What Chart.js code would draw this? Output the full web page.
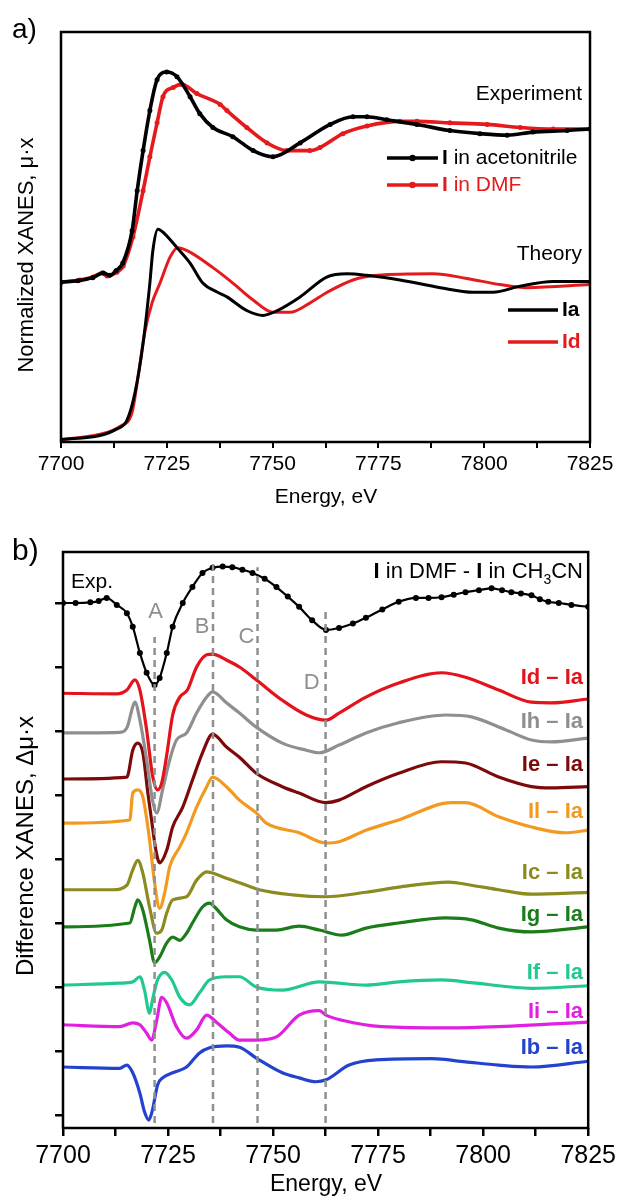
<!DOCTYPE html>
<html>
<head>
<meta charset="utf-8">
<script src="https://cdn.jsdelivr.net/npm/chart.js@4.4.1/dist/chart.umd.min.js"></script>
<style>
  body { margin: 0; background: #fff; width: 621px; height: 1200px; overflow: hidden; position: relative; }
  canvas { position: absolute; left: 0; }
  #chart-a { top: 0; }
  #chart-b { top: 520px; }
</style>
</head>
<body>
<canvas id="chart-a" width="621" height="520"></canvas>
<canvas id="chart-b" width="621" height="680"></canvas>
<script>
// ============================================================
// DATA
// ============================================================

// energy axis
const xMin = 7700, xMax = 7825, xStep = 12.5, xLabelStep = 25;

// --- panel a) normalized XANES ---
const expAcnE = [7700, 7704, 7707.5, 7710, 7711.5, 7713, 7714.6, 7716.8, 7718, 7719.4, 7721, 7722.7, 7725, 7727.4, 7730.5, 7732.8, 7735.9, 7740.6, 7745.4, 7750.1, 7756.5, 7763.6, 7769, 7772.3, 7777, 7784.1, 7791.9, 7799, 7805.4, 7811.5, 7819.6, 7825];
const expAcnV = [1.006, 1.015, 1.035, 1.065, 1.05, 1.08, 1.13, 1.34, 1.60, 1.86, 2.12, 2.32, 2.37, 2.34, 2.21, 2.10, 2.01, 1.95, 1.86, 1.82, 1.91, 2.03, 2.08, 2.08, 2.06, 2.03, 1.99, 1.97, 1.96, 1.98, 1.99, 2.0];

const expDmfE = [7700, 7704.5, 7707.6, 7709.7, 7710.9, 7713.2, 7714.7, 7717, 7719.4, 7721, 7722.7, 7724.1, 7726.5, 7728.6, 7732.1, 7737.6, 7739.2, 7743.9, 7748.7, 7753.4, 7758.8, 7761.2, 7766.6, 7772.3, 7780.1, 7784.1, 7791.9, 7800.7, 7808.5, 7816.3, 7825];
const expDmfV = [1.006, 1.02, 1.04, 1.065, 1.045, 1.07, 1.11, 1.30, 1.60, 1.82, 2.04, 2.21, 2.27, 2.29, 2.23, 2.16, 2.12, 2.01, 1.91, 1.86, 1.86, 1.88, 1.97, 2.02, 2.05, 2.05, 2.04, 2.03, 2.01, 2.0, 2.0];

const thIaE = [7700, 7709.2, 7713, 7715.6, 7717.5, 7719.4, 7721, 7721.7, 7722.9, 7724.5, 7727.4, 7730.5, 7733.5, 7737, 7739.2, 7744, 7747.7, 7751, 7756.5, 7762.9, 7767.6, 7772.3, 7780.1, 7789.6, 7797.4, 7802.1, 7808.5, 7816.3, 7825];
const thIaV = [-0.015, 0.01, 0.05, 0.11, 0.29, 0.61, 1.0, 1.21, 1.35, 1.32, 1.23, 1.13, 1.0, 0.94, 0.91, 0.82, 0.79, 0.82, 0.91, 1.04, 1.06, 1.05, 1.02, 0.97, 0.94, 0.94, 0.98, 1.01, 1.01];

const thIdE = [7700, 7710.9, 7714, 7716.8, 7718.2, 7719.8, 7721.5, 7723.4, 7725.8, 7727.6, 7729.8, 7735.9, 7740.6, 7745.4, 7750.1, 7754.1, 7758.8, 7762.9, 7769, 7774.7, 7787.9, 7795.9, 7803.7, 7810.1, 7825];
const thIdV = [-0.02, 0.03, 0.07, 0.16, 0.39, 0.68, 0.87, 1.0, 1.17, 1.23, 1.21, 1.10, 1.0, 0.89, 0.81, 0.81, 0.87, 0.94, 1.02, 1.05, 1.06, 1.03, 0.99, 0.97, 0.99];

// --- panel b) difference spectra (offset) ---
const diffExpE = [7700, 7703, 7706.5, 7708.5, 7710.4, 7712.8, 7715.2, 7716.6, 7718.3, 7719.9, 7721.8, 7723, 7724.7, 7726.1, 7728.5, 7730.8, 7733.2, 7735.6, 7738, 7740.3, 7742.7, 7745.1, 7748, 7750.8, 7753.5, 7756.2, 7759.3, 7762.6, 7765.7, 7769, 7772.1, 7776, 7779.9, 7784, 7787, 7790.1, 7793, 7795.8, 7799, 7802, 7804.5, 7806.7, 7809, 7811.5, 7813.5, 7815.5, 7818, 7821, 7825];
const diffExpV = [8.0, 8.0, 8.01, 8.03, 8.08, 7.97, 7.84, 7.63, 7.22, 6.91, 6.72, 6.83, 7.22, 7.63, 8.0, 8.25, 8.47, 8.55, 8.57, 8.56, 8.52, 8.47, 8.38, 8.25, 8.1, 7.94, 7.73, 7.58, 7.61, 7.68, 7.77, 7.90, 8.02, 8.08, 8.08, 8.09, 8.13, 8.17, 8.2, 8.23, 8.2, 8.17, 8.15, 8.12, 8.06, 8.02, 8.0, 7.97, 7.94];

const diffIdE = [7700, 7712.8, 7715.2, 7717.1, 7718.3, 7719.9, 7721.3, 7722.5, 7723.5, 7724.7, 7726.1, 7727.8, 7729.6, 7731.8, 7734.2, 7735.6, 7738.9, 7742, 7746, 7752.2, 7757.9, 7762.6, 7765.7, 7772.1, 7779.9, 7790.1, 7795.8, 7803.7, 7811.5, 7816.2, 7825];
const diffIdV = [6.59, 6.58, 6.64, 6.80, 6.64, 6.02, 5.31, 5.08, 5.19, 5.63, 6.25, 6.53, 6.64, 7.0, 7.19, 7.20, 7.11, 7.0, 6.80, 6.48, 6.25, 6.17, 6.28, 6.53, 6.75, 6.91, 6.84, 6.64, 6.45, 6.44, 6.50];

const diffIhE = [7700, 7713.5, 7715.2, 7716.6, 7717.1, 7718.3, 7719.9, 7721.3, 7722.3, 7723.7, 7725.4, 7727, 7729.4, 7731.8, 7734.2, 7735.6, 7738.9, 7742, 7746, 7752.2, 7757.9, 7761, 7765.7, 7772.1, 7779.9, 7791.1, 7797.2, 7805.3, 7811.5, 7816.2, 7825];
const diffIhV = [5.97, 5.98, 6.05, 6.38, 6.45, 6.17, 5.55, 4.92, 4.72, 5.08, 5.55, 5.86, 5.97, 6.28, 6.53, 6.61, 6.44, 6.28, 6.06, 5.81, 5.70, 5.66, 5.78, 5.97, 6.13, 6.25, 6.22, 6.02, 5.86, 5.83, 5.89];

const diffIeE = [7700, 7715.2, 7716.6, 7717.8, 7719, 7720.2, 7721.3, 7722.1, 7723, 7724.7, 7726.1, 7728.5, 7730.8, 7733.2, 7735.6, 7738.9, 7742, 7746, 7752.2, 7756.2, 7762.6, 7765.7, 7772.1, 7779.9, 7790.1, 7795.8, 7803.7, 7811.5, 7816.2, 7825];
const diffIeV = [5.25, 5.28, 5.70, 5.81, 5.66, 5.03, 4.50, 4.14, 3.94, 4.14, 4.50, 4.81, 5.23, 5.66, 5.95, 5.75, 5.59, 5.34, 5.13, 5.03, 4.88, 4.92, 5.13, 5.34, 5.52, 5.50, 5.28, 5.13, 5.11, 5.13];

const diffIlE = [7700, 7715.9, 7716.6, 7717.8, 7719, 7720.2, 7720.6, 7721.8, 7723, 7724.2, 7725.4, 7727.8, 7729.4, 7731.8, 7734.2, 7735.6, 7738.9, 7742, 7746, 7748.4, 7756.2, 7762.6, 7765.7, 7772.1, 7779.9, 7792.5, 7795.8, 7803.7, 7811.5, 7819.5, 7825];
const diffIlV = [4.56, 4.61, 5.03, 5.08, 4.97, 4.50, 4.30, 3.63, 3.23, 3.47, 3.88, 4.19, 4.41, 4.81, 5.13, 5.28, 5.13, 4.92, 4.72, 4.56, 4.41, 4.25, 4.27, 4.45, 4.61, 4.88, 4.88, 4.66, 4.50, 4.41, 4.45];

const diffIcE = [7700, 7711.9, 7715.2, 7716.6, 7717.8, 7719, 7720.6, 7722.3, 7723.5, 7724.7, 7726.1, 7729.4, 7731.8, 7734.2, 7735.6, 7738.9, 7742, 7746.7, 7754.6, 7762.6, 7772.1, 7779.9, 7791.8, 7797.2, 7803.7, 7811.5, 7825];
const diffIcV = [3.52, 3.52, 3.59, 3.83, 3.98, 3.78, 3.25, 2.84, 2.89, 3.16, 3.36, 3.41, 3.67, 3.80, 3.78, 3.70, 3.63, 3.52, 3.44, 3.41, 3.48, 3.56, 3.64, 3.59, 3.52, 3.45, 3.48];

const diffIgE = [7700, 7715.9, 7717.1, 7717.8, 7719, 7720.6, 7721.8, 7723, 7724.7, 7726.1, 7727.8, 7729.4, 7730.8, 7733.2, 7734.9, 7736.1, 7738.9, 7742, 7746, 7750.8, 7756.2, 7761, 7766.4, 7772.1, 7779.9, 7791.1, 7797.2, 7803.7, 7811.5, 7825];
const diffIgV = [2.94, 3.0, 3.25, 3.36, 3.20, 2.73, 2.38, 2.47, 2.69, 2.78, 2.73, 2.84, 3.0, 3.25, 3.31, 3.25, 3.05, 2.94, 2.89, 2.89, 2.95, 2.89, 2.81, 2.92, 3.0, 3.08, 3.05, 2.92, 2.86, 2.94];

const diffIfE = [7700, 7713.5, 7716.6, 7718.3, 7719.4, 7720.6, 7721.3, 7722.5, 7724.2, 7725.9, 7727.8, 7730.1, 7732.5, 7734.9, 7738.9, 7742, 7746, 7752.2, 7761, 7772.1, 7779.9, 7790.1, 7798.2, 7811.5, 7825];
const diffIfV = [2.03, 2.06, 2.08, 2.16, 1.95, 1.59, 1.80, 2.11, 2.23, 2.11, 1.84, 1.72, 1.91, 2.11, 2.16, 2.16, 2.0, 1.95, 2.08, 2.03, 2.08, 2.11, 2.06, 1.98, 2.02];

const diffIiE = [7700, 7713.5, 7716.6, 7718.3, 7719.9, 7721.1, 7722.3, 7723.5, 7724.7, 7727, 7729.4, 7731.8, 7734.2, 7736.5, 7739.6, 7742, 7746, 7750.8, 7756.2, 7761, 7762.6, 7766.4, 7775.9, 7791.8, 7803.7, 7815.5, 7825];
const diffIiV = [1.41, 1.38, 1.44, 1.41, 1.28, 1.17, 1.48, 1.84, 1.75, 1.38, 1.20, 1.33, 1.56, 1.45, 1.28, 1.17, 1.17, 1.22, 1.56, 1.63, 1.56, 1.48, 1.38, 1.36, 1.38, 1.42, 1.45];

const diffIbE = [7700, 7713.5, 7715.2, 7716.6, 7718.3, 7719.4, 7720.4, 7721.3, 7722.5, 7723.7, 7726.1, 7729.4, 7732.5, 7734.9, 7738.9, 7742, 7746, 7752.2, 7756.2, 7760.2, 7762.6, 7768.1, 7774.5, 7787.8, 7795.8, 7803.7, 7811.5, 7825];
const diffIbV = [0.75, 0.73, 0.78, 0.66, 0.34, 0.05, -0.08, 0.08, 0.47, 0.58, 0.66, 0.75, 0.97, 1.05, 1.08, 1.06, 0.89, 0.66, 0.58, 0.52, 0.55, 0.78, 0.86, 0.88, 0.83, 0.78, 0.75, 0.84];

const diffNames  = ['Id – Ia', 'Ih – Ia', 'Ie – Ia', 'Il – Ia', 'Ic – Ia', 'Ig – Ia', 'If – Ia', 'Ii – Ia', 'Ib – Ia'];
const diffSeries = [
  [diffIdE, diffIdV], [diffIhE, diffIhV], [diffIeE, diffIeV], [diffIlE, diffIlV], [diffIcE, diffIcV],
  [diffIgE, diffIgV], [diffIfE, diffIfV], [diffIiE, diffIiV], [diffIbE, diffIbV]
];

// feature markers A-D (dashed guides)
const featLetters = ['A', 'B', 'C', 'D'];
const featE       = [7721.8, 7735.7, 7746.3, 7762.5];
const featTop     = [7.47, 8.67, 8.56, 7.86];
const featBottom  = -0.125;

const yTicksB = [0, 1, 2, 3, 4, 5, 6, 7, 8];

// ============================================================
// STYLE
// ============================================================
const FONT = '"Liberation Sans", Arial, Helvetica, sans-serif';
const diffColors = ['#e3121b', '#8f8f8f', '#7d0a0a', '#f29a1f', '#8b8b20', '#1a7d1a', '#22c98f', '#e01fe0', '#2343cf'];
const labelYs    = [158, 202, 245, 292, 353, 395, 453, 492, 528];   // label centres in chart-b canvas px
const letterDx   = [1, -11, -11, -14];
const letterYs   = [92, 107, 117, 163];

Chart.defaults.font.family = FONT;
Chart.defaults.color = '#000';

const pts = (E, V) => E.map((e, i) => ({ x: e, y: V[i] }));

const xTickLabel = (v) => (v % xLabelStep === 0 ? String(v) : '');

function richText(ctx, parts, x, y, align, size, color) {
  const fontOf = (p) => `${p.b ? 'bold ' : ''}${p.sub ? Math.round(size * 0.65) : size}px ${FONT}`;
  let w = 0;
  parts.forEach(p => { ctx.font = fontOf(p); w += ctx.measureText(p.t).width; });
  let cx = align === 'right' ? x - w : align === 'center' ? x - w / 2 : x;
  ctx.fillStyle = color;
  ctx.textAlign = 'left';
  ctx.textBaseline = 'middle';
  parts.forEach(p => {
    ctx.font = fontOf(p);
    ctx.fillText(p.t, cx, p.sub ? y + size * 0.35 : y);
    cx += ctx.measureText(p.t).width;
  });
}

function rotatedText(ctx, text, x, y, size) {
  ctx.save();
  ctx.translate(x, y);
  ctx.rotate(-Math.PI / 2);
  ctx.font = `${size}px ${FONT}`;
  ctx.fillStyle = '#000';
  ctx.textAlign = 'center';
  ctx.textBaseline = 'middle';
  ctx.fillText(text, 0, 0);
  ctx.restore();
}

const frame = {
  id: 'frame',
  afterDatasetsDraw(chart) {
    const { ctx, chartArea: a } = chart;
    ctx.save();
    ctx.strokeStyle = '#000';
    ctx.lineWidth = 2.5;
    ctx.strokeRect(a.left, a.top, a.right - a.left, a.bottom - a.top);
    ctx.restore();
  }
};

// ============================================================
// PANEL a)
// ============================================================
const annotA = {
  id: 'annotA',
  afterDraw(chart) {
    const ctx = chart.ctx;
    ctx.save();
    richText(ctx, [{ t: 'a)' }], 12, 30, 'left', 28, '#000');
    rotatedText(ctx, 'Normalized XANES, \u03bc\u00b7x', 27, 255, 22);
    richText(ctx, [{ t: 'Energy, eV' }], 326, 497, 'center', 21, '#000');
    richText(ctx, [{ t: 'Experiment' }], 582, 94, 'right', 21, '#000');
    richText(ctx, [{ t: 'Theory' }], 582, 254, 'right', 21, '#000');

    // legends
    const leg = [
      { y: 158, c: '#000', dot: true, parts: [{ t: 'I', b: true }, { t: ' in acetonitrile' }], x0: 387, x1: 438 },
      { y: 185, c: '#e41a1c', dot: true, parts: [{ t: 'I', b: true }, { t: ' in DMF' }], x0: 387, x1: 438 },
      { y: 310, c: '#000', dot: false, parts: [{ t: 'Ia', b: true }], x0: 508, x1: 558 },
      { y: 342, c: '#e41a1c', dot: false, parts: [{ t: 'Id', b: true }], x0: 508, x1: 558 }
    ];
    leg.forEach(l => {
      ctx.strokeStyle = l.c;
      ctx.lineWidth = 3.4;
      ctx.beginPath();
      ctx.moveTo(l.x0, l.y);
      ctx.lineTo(l.x1, l.y);
      ctx.stroke();
      if (l.dot) {
        ctx.fillStyle = l.c;
        ctx.beginPath();
        ctx.arc((l.x0 + l.x1) / 2, l.y, 3.2, 0, Math.PI * 2);
        ctx.fill();
      }
      richText(ctx, l.parts, l.x1 + 4, l.y, 'left', 21, l.c);
    });
    ctx.restore();
  }
};

new Chart(document.getElementById('chart-a'), {
  type: 'line',
  data: {
    datasets: [
      { data: pts(expAcnE, expAcnV), borderColor: '#000', backgroundColor: '#000', borderWidth: 3.6, pointRadius: 2.5, pointBorderWidth: 0 },
      { data: pts(expDmfE, expDmfV), borderColor: '#e41a1c', backgroundColor: '#e41a1c', borderWidth: 3.6, pointRadius: 2.5, pointBorderWidth: 0 },
      { data: pts(thIaE, thIaV), borderColor: '#000', borderWidth: 3, pointRadius: 0 },
      { data: pts(thIdE, thIdV), borderColor: '#e41a1c', borderWidth: 3, pointRadius: 0 }
    ]
  },
  options: {
    responsive: false,
    animation: false,
    layout: { padding: { top: 32, right: 31, left: 61, bottom: 0 } },
    elements: { line: { cubicInterpolationMode: 'monotone', fill: false } },
    plugins: { legend: { display: false }, tooltip: { enabled: false } },
    scales: {
      x: {
        type: 'linear', min: xMin, max: xMax,
        border: { display: false },
        grid: { drawOnChartArea: false, drawTicks: true, tickLength: 6, color: '#000', lineWidth: 2 },
        ticks: { stepSize: xStep, autoSkip: false, maxRotation: 0, minRotation: 0, padding: 4, color: '#000', font: { size: 21 }, callback: xTickLabel },
        afterFit: (s) => { s.height = 78; }
      },
      y: { display: false, min: -0.032, max: 2.63 }
    }
  },
  plugins: [frame, annotA]
});

// ============================================================
// PANEL b)
// ============================================================
const annotB = {
  id: 'annotB',
  afterDraw(chart) {
    const ctx = chart.ctx;
    const xs = chart.scales.x;
    ctx.save();
    richText(ctx, [{ t: 'b)' }], 12, 32, 'left', 30, '#000');
    rotatedText(ctx, 'Difference XANES, \u0394\u03bc\u00b7x', 26, 326, 24);
    richText(ctx, [{ t: 'Energy, eV' }], 326, 665, 'center', 23, '#000');
    richText(ctx, [{ t: 'Exp.' }], 71, 62, 'left', 21, '#000');
    richText(ctx, [
      { t: 'I', b: true }, { t: ' in DMF - ' }, { t: 'I', b: true }, { t: ' in CH' }, { t: '3', sub: true }, { t: 'CN' }
    ], 583, 52, 'right', 22, '#000');

    featLetters.forEach((L, i) => {
      richText(ctx, [{ t: L }], xs.getPixelForValue(featE[i]) + letterDx[i], letterYs[i], 'center', 22, '#8f8f8f');
    });

    diffNames.forEach((n, i) => {
      richText(ctx, [{ t: n, b: true }], 583, labelYs[i], 'right', 22, diffColors[i]);
    });
    ctx.restore();
  }
};

const dashSets = featE.map((e, i) => ({
  data: [{ x: e, y: featBottom }, { x: e, y: featTop[i] }],
  borderColor: '#8f8f8f', borderWidth: 2.5, borderDash: [7, 5], pointRadius: 0,
  cubicInterpolationMode: 'default', tension: 0
}));

const diffSets = diffSeries.map(([E, V], i) => ({
  data: pts(E, V), borderColor: diffColors[i], borderWidth: 3.2, pointRadius: 0
}));

new Chart(document.getElementById('chart-b'), {
  type: 'line',
  data: {
    datasets: [
      ...dashSets,
      { data: pts(diffExpE, diffExpV), borderColor: '#000', backgroundColor: '#000', borderWidth: 2.2, pointRadius: 3, pointBorderWidth: 0 },
      ...diffSets
    ]
  },
  options: {
    responsive: false,
    animation: false,
    layout: { padding: { top: 32, right: 31, left: 0, bottom: 0 } },
    elements: { line: { cubicInterpolationMode: 'monotone', fill: false } },
    plugins: { legend: { display: false }, tooltip: { enabled: false } },
    scales: {
      x: {
        type: 'linear', min: xMin, max: xMax,
        border: { display: false },
        grid: { drawOnChartArea: false, drawTicks: true, tickLength: 8, color: '#000', lineWidth: 2.5 },
        ticks: { stepSize: xStep, autoSkip: false, maxRotation: 0, minRotation: 0, padding: 5, color: '#000', font: { size: 25 }, callback: xTickLabel },
        afterFit: (s) => { s.height = 72; }
      },
      y: {
        min: -0.203, max: 8.797,
        border: { display: false },
        grid: { drawOnChartArea: false, drawTicks: true, tickLength: 8, color: '#000', lineWidth: 2.5 },
        ticks: { display: false },
        afterBuildTicks: (s) => { s.ticks = yTicksB.map(v => ({ value: v })); },
        afterFit: (s) => { s.width = 63; }
      }
    }
  },
  plugins: [frame, annotB]
});
</script>
</body>
</html>
